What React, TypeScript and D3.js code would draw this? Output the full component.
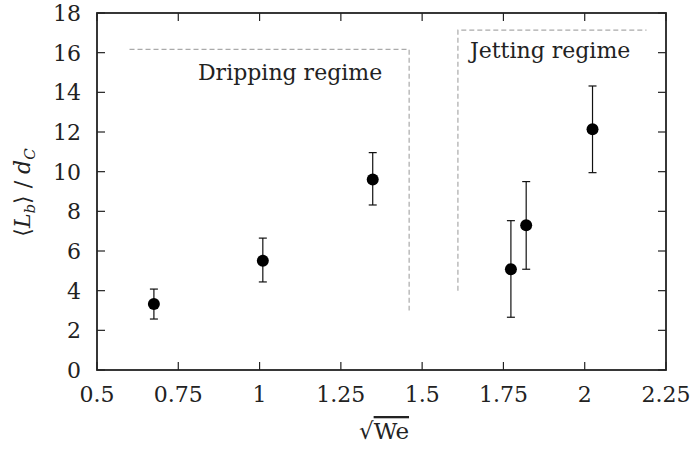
import React from "react";
import * as d3 from "d3";

const xValues = [0.675, 1.01, 1.348, 1.773, 1.82, 2.024];
const yValues = [3.33, 5.51, 9.61, 5.08, 7.3, 12.14];
const yLow = [2.57, 4.44, 8.32, 2.66, 5.08, 9.95];
const yHigh = [4.08, 6.65, 10.96, 7.53, 9.5, 14.32];
const xTicks = [0.5, 0.75, 1, 1.25, 1.5, 1.75, 2, 2.25];
const xTickLabels = ["0.5", "0.75", "1", "1.25", "1.5", "1.75", "2", "2.25"];
const yTicks = [0, 2, 4, 6, 8, 10, 12, 14, 16, 18];
const drippingBox = [[0.6, 16.17], [1.46, 16.17], [1.46, 3.0]];
const jettingBox = [[1.61, 4.0], [1.61, 17.14], [2.19, 17.14]];
const regimeLabels = ["Dripping regime", "Jetting regime"];
const regimeLabelPos = [[0.8106, 14.62], [1.647, 15.73]];

const W = 696, H = 449;
const L = 97, R = 666, T = 13, B = 370;
const FONT = "'DejaVu Serif', serif";

export default function App() {
  const x = d3.scaleLinear().domain([0.5, 2.25]).range([L, R]);
  const y = d3.scaleLinear().domain([0, 18]).range([B, T]);
  const line = d3.line<number[]>().x(d => x(d[0])).y(d => y(d[1]));
  const axisColor = "#222";
  const tickLen = 8;
  return (
    <svg width={W} height={H} style={{ position: "absolute", left: 0, top: 0, background: "#fff" }}>
      <path d={line(drippingBox as any) || ""} fill="none" stroke="#aaa" strokeWidth={1.2} strokeDasharray="5,3" />
      <path d={line(jettingBox as any) || ""} fill="none" stroke="#aaa" strokeWidth={1.2} strokeDasharray="5,3" />
      {regimeLabels.map((s, i) => (
        <text key={"rl" + i} x={x(regimeLabelPos[i][0])} y={y(regimeLabelPos[i][1])} fontFamily={FONT} fontSize={22} fill="#222">{s}</text>
      ))}
      {xTicks.map((t, i) => (
        <g key={"xt" + i}>
          <line x1={x(t)} x2={x(t)} y1={B} y2={B - tickLen} stroke={axisColor} strokeWidth={1.2} />
          <line x1={x(t)} x2={x(t)} y1={T} y2={T + tickLen} stroke={axisColor} strokeWidth={1.2} />
          <text x={x(t)} y={B + 32} textAnchor="middle" fontFamily={FONT} fontSize={22} fill="#222">{xTickLabels[i]}</text>
        </g>
      ))}
      {yTicks.map((t, i) => (
        <g key={"yt" + i}>
          <line x1={L} x2={L + tickLen} y1={y(t)} y2={y(t)} stroke={axisColor} strokeWidth={1.2} />
          <line x1={R} x2={R - tickLen} y1={y(t)} y2={y(t)} stroke={axisColor} strokeWidth={1.2} />
          <text x={L - 16} y={y(t)} dy="0.36em" textAnchor="end" fontFamily={FONT} fontSize={22} fill="#222">{String(t)}</text>
        </g>
      ))}
      <rect x={L} y={T} width={R - L} height={B - T} fill="none" stroke={axisColor} strokeWidth={1.8} />
      {xValues.map((xv, i) => (
        <g key={"p" + i}>
          <line x1={x(xv)} x2={x(xv)} y1={y(yLow[i])} y2={y(yHigh[i])} stroke="#111" strokeWidth={1.2} />
          <line x1={x(xv) - 4} x2={x(xv) + 4} y1={y(yLow[i])} y2={y(yLow[i])} stroke="#111" strokeWidth={1.2} />
          <line x1={x(xv) - 4} x2={x(xv) + 4} y1={y(yHigh[i])} y2={y(yHigh[i])} stroke="#111" strokeWidth={1.2} />
          <circle cx={x(xv)} cy={y(yValues[i])} r={6} fill="#000" />
        </g>
      ))}
      <text x={384} y={439} textAnchor="middle" fontFamily={FONT} fontSize={23} fill="#222">
        <tspan>√</tspan><tspan style={{ textDecoration: "overline" }}>We</tspan>
      </text>
      <text transform={`translate(30, ${(T + B) / 2 + 1}) rotate(-90)`} textAnchor="middle" fontFamily={FONT} fontSize={22} fill="#222">
        <tspan>⟨</tspan>
        <tspan fontStyle="italic">L</tspan>
        <tspan fontStyle="italic" fontSize={15} dy={5}>b</tspan>
        <tspan dy={-5}>⟩ / </tspan>
        <tspan fontStyle="italic">d</tspan>
        <tspan fontStyle="italic" fontSize={15} dy={5}>C</tspan>
      </text>
    </svg>
  );
}
